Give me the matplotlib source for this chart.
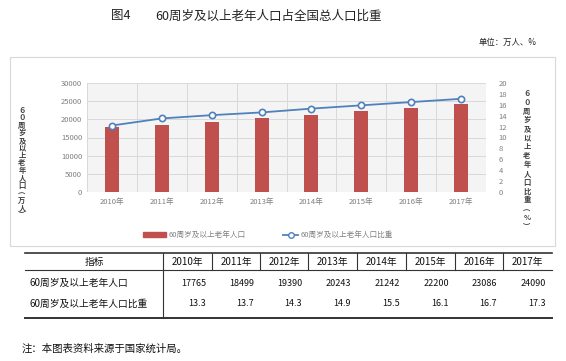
import numpy as np
import matplotlib
matplotlib.use("Agg")
import matplotlib.pyplot as plt
from matplotlib.lines import Line2D
from matplotlib.patches import Rectangle

plt.rcParams['font.family'] = ['Noto Sans CJK SC', 'DejaVu Sans']

# data
years = ['2010年', '2011年', '2012年', '2013年', '2014年', '2015年', '2016年', '2017年']
elderly_pop = [17765, 18499, 19390, 20243, 21242, 22200, 23086, 24090]
elderly_ratio = [13.3, 13.7, 14.3, 14.9, 15.5, 16.1, 16.7, 17.3]
# ratio line as drawn in the chart
chart_ratio = [12.2, 13.5, 14.1, 14.6, 15.3, 15.9, 16.5, 17.1]

W, H = 566, 361
fig = plt.figure(figsize=(W / 100, H / 100), dpi=100)


def fx(px):
    return px / W


def fy(py):
    return 1 - py / H


def hline(x0, x1, y, lw=1.0, color='#333333'):
    fig.add_artist(Line2D([fx(x0), fx(x1)], [fy(y), fy(y)], lw=lw, color=color))


def vline(x, y0, y1, lw=0.8, color='#333333'):
    fig.add_artist(Line2D([fx(x), fx(x)], [fy(y0), fy(y1)], lw=lw, color=color))


# titles
fig.text(fx(121), fy(16), '图4', fontsize=9, ha='center', va='center', color='#222222')
fig.text(fx(268), fy(16), '60周岁及以上老年人口占全国总人口比重', fontsize=9,
         ha='center', va='center', color='#222222')
fig.text(fx(508), fy(42), '单位：万人、%', fontsize=6, ha='center', va='center',
         color='#222222')

# chart frame
fig.add_artist(Rectangle((fx(10), fy(246)), fx(555) - fx(10), fy(57) - fy(246),
                         fill=False, ec='#d9d9d9', lw=0.8))

# main axes
left, right, top, bottom = 87, 486, 83, 192
ax = fig.add_axes([fx(left), fy(bottom), fx(right) - fx(left), fy(top) - fy(bottom)])
ax.set_facecolor('#f4f4f4')
x = np.arange(len(years))
ax.bar(x, elderly_pop, width=0.28, color='#c0504d', zorder=3)
ax.set_xlim(-0.5, len(years) - 0.5)
ax.set_ylim(0, 30000)
ax.set_yticks(np.arange(0, 30001, 5000))
ax.set_xticks(x)
ax.set_xticklabels(years)
ax.set_xticks(np.arange(-0.5, len(years), 1), minor=True)
ax.grid(which='minor', axis='x', color='#d9d9d9', lw=0.7, zorder=0)
ax.grid(which='major', axis='y', color='#d9d9d9', lw=0.7, zorder=0)
ax.tick_params(axis='both', which='both', length=0, labelsize=5.5, labelcolor='#808080')
ax.tick_params(axis='x', pad=4)
for s in ax.spines.values():
    s.set_visible(False)

ax2 = ax.twinx()
ax2.plot(x, chart_ratio, color='#4f81bd', lw=1.3, marker='o', ms=4.5,
         mfc='white', mec='#4f81bd', mew=1.2, zorder=4)
ax2.set_ylim(0, 20)
ax2.set_yticks(np.arange(0, 21, 2))
ax2.tick_params(axis='y', length=0, labelsize=5.5, labelcolor='#808080', pad=9)
for s in ax2.spines.values():
    s.set_visible(False)

# vertical axis titles (stacked characters, one text each)
left_title = '６０周岁及以上老年人口︵万人︶'
right_title = '６０周岁及以上老年人口比重︵%︶'
fig.text(fx(22), fy(107), '\n'.join(left_title), fontsize=5.3, ha='center',
         va='top', ma='center', color='#404040', fontweight='bold', linespacing=1.07)
fig.text(fx(527), fy(90), '\n'.join(right_title), fontsize=5.3, ha='center',
         va='top', ma='center', color='#404040', fontweight='bold', linespacing=1.3)

# legend
fig.add_artist(Rectangle((fx(143), fy(237)), fx(166) - fx(143), fy(232) - fy(237),
                         color='#c0504d'))
fig.text(fx(169), fy(234.5), '60周岁及以上老年人口', fontsize=5.5, ha='left',
         va='center', color='#808080')
fig.add_artist(Line2D([fx(283), fx(290.5), fx(298)], [fy(234.5)] * 3, color='#4f81bd',
                      lw=1.3, marker='o', mfc='white', mec='#4f81bd',
                      markevery=[1], markersize=4))
fig.text(fx(301), fy(234.5), '60周岁及以上老年人口比重', fontsize=5.5, ha='left',
         va='center', color='#808080')

# table
col_edges = [25, 163, 212, 260, 308, 357, 406, 455, 503, 552]
t_top, t_head, t_bot = 253, 270, 318
hline(col_edges[0], col_edges[-1], t_top, lw=1.2)
hline(col_edges[0], col_edges[-1], t_head, lw=0.8)
hline(col_edges[0], col_edges[-1], t_bot, lw=1.4)
vline(col_edges[1], t_top, t_bot)
for xe in col_edges[2:-1]:
    vline(xe, t_top, t_head)

fig.text(fx((col_edges[0] + col_edges[1]) / 2), fy(261.5), '指标', fontsize=7,
         ha='center', va='center', color='#111111')
fig.text(fx(30), fy(283), '60周岁及以上老年人口', fontsize=7, ha='left',
         va='center', color='#111111')
fig.text(fx(30), fy(304), '60周岁及以上老年人口比重', fontsize=7, ha='left',
         va='center', color='#111111')
for i, yr in enumerate(years):
    cx = (col_edges[i + 1] + col_edges[i + 2]) / 2
    fig.text(fx(cx), fy(261.5), yr, fontsize=7, ha='center', va='center',
             color='#111111')
    fig.text(fx(col_edges[i + 2] - 6), fy(283), str(elderly_pop[i]), fontsize=6.5,
             ha='right', va='center', color='#111111')
    fig.text(fx(col_edges[i + 2] - 6), fy(304), f'{elderly_ratio[i]:.1f}', fontsize=6.5,
             ha='right', va='center', color='#111111')

# note
fig.text(fx(22), fy(349), '注：本图表资料来源于国家统计局。', fontsize=7.5,
         ha='left', va='center', color='#111111')

fig.savefig('out.png', dpi=100)
